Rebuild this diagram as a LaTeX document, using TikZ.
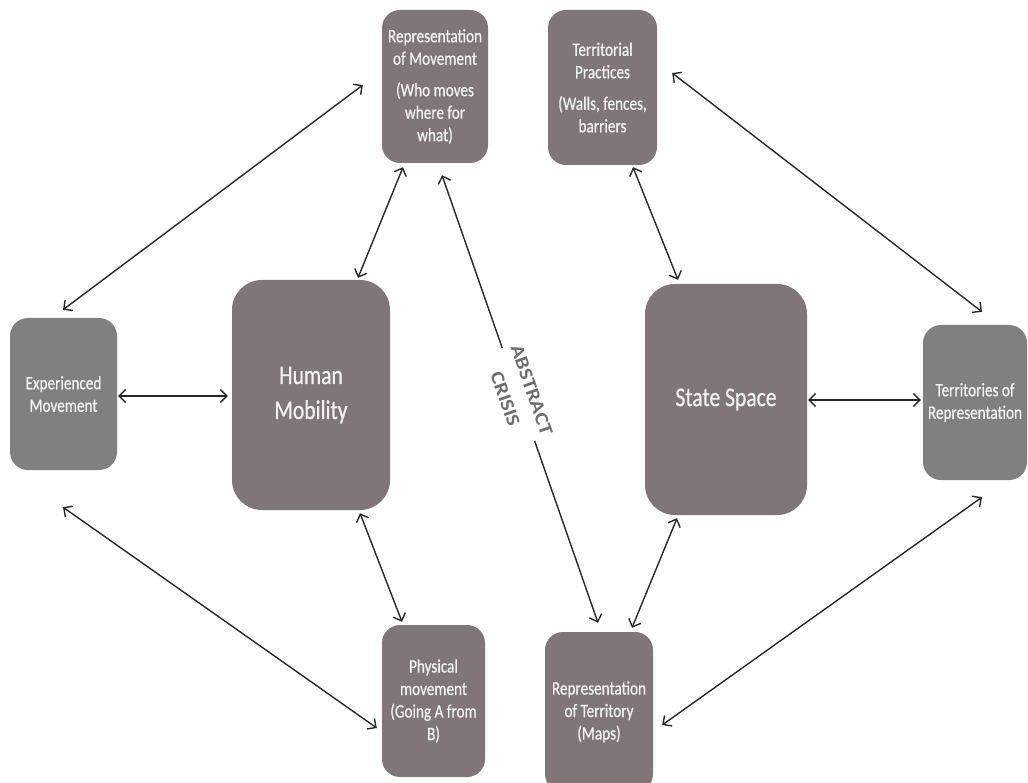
\documentclass[tikz,border=0pt]{standalone}
\usepackage{fontspec}
\setmainfont{Carlito}[FakeStretch=0.8,FakeBold=0.6]
\newfontfamily\abfont{Carlito}[FakeStretch=1.15]
\usetikzlibrary{calc,arrows.meta}
\definecolor{boxbrown}{RGB}{128,118,119}
\definecolor{boxgrey}{RGB}{128,128,128}
\definecolor{lbl}{RGB}{110,110,110}
\definecolor{arr}{RGB}{40,40,40}
\tikzset{
  box/.style={rectangle, rounded corners=18pt, fill=boxbrown, text=white!95!black, align=center, inner sep=0pt, font=\fontsize{19}{22.5}\selectfont},
  bigbox/.style={box, rounded corners=30pt, font=\fontsize{27}{35}\selectfont},
  greybox/.style={box, fill=boxgrey},
  link/.style={draw=arr, line width=1.4pt, {Straight Barb[length=6.5pt,width=13pt]}-{Straight Barb[length=6.5pt,width=13pt]}},
  crisislabel/.style={sloped, fill=white, inner sep=2pt, text=lbl, align=center, font=\abfont\bfseries\fontsize{19}{28}\selectfont}
}
\begin{document}
\begin{tikzpicture}[x=1pt,y=-1pt]
\clip (0,0) rectangle (1028,783);
\fill[white] (0,0) rectangle (1028,783);
% nodes
\node[box, minimum width=106pt, minimum height=153pt] (rm) at (435,86.5) {Representation\\of Movement\\[9pt](Who moves\\where for\\what)};
\node[box, minimum width=109pt, minimum height=155pt] (tp) at (602.5,87.5) {Territorial\\Practices\\[9pt](Walls, fences,\\barriers};
\node[greybox, minimum width=107pt, minimum height=152pt] (exp) at (63.5,394) {Experienced\\Movement};
\node[bigbox, minimum width=158pt, minimum height=230pt] (hm) at (311,395) {Human\\Mobility};
\node[bigbox, minimum width=162pt, minimum height=231pt] (ss) at (726,399.5) {State Space};
\node[greybox, minimum width=104pt, minimum height=155pt] (tr) at (975,402.5) {Territories of\\Representation};
\node[box, minimum width=103pt, minimum height=152pt] (pm) at (433.5,701) {Physical\\movement\\(Going A from\\B)};
\node[box, minimum width=108pt, minimum height=160pt] (rt) at (599,712) {Representation\\of Territory\\(Maps)};
% connectors
\draw[link] ($(exp.north)+(-0.5,-8)$) -- ($(rm.west)+(-19,-1.5)$);
\draw[link] ($(rm.south)+(-32,4)$) -- ($(hm.north)+(47,-2)$);
\draw[link] ($(rm.south)+(7,12)$) -- node[crisislabel, pos=0.49] (ac) {ABSTRACT\\CRISIS} ($(rt.north)+(-1,-9)$);
\draw[link] ($(tp.south)+(30.5,2)$) -- ($(ss.north)+(-48,-4)$);
\draw[link] ($(tp.east)+(15,-14.5)$) -- ($(tr.north)+(7,-13)$);
\draw[link] ($(exp.east)+(1,2)$) -- ($(hm.west)+(-4,1)$);
\draw[link] ($(ss.east)+(1,0.5)$) -- ($(tr.west)+(-2,-2.5)$);
\draw[link] ($(exp.south)+(-0.5,37)$) -- ($(pm.west)+(-5,27)$);
\draw[link] ($(hm.south)+(49,3)$) -- ($(pm.north)+(-31.5,-3)$);
\draw[link] ($(ss.south)+(-49,3)$) -- ($(rt.north)+(33,-4)$);
\draw[link] ($(tr.south)+(7,17)$) -- ($(rt.east)+(9,13)$);
\end{tikzpicture}
\end{document}
